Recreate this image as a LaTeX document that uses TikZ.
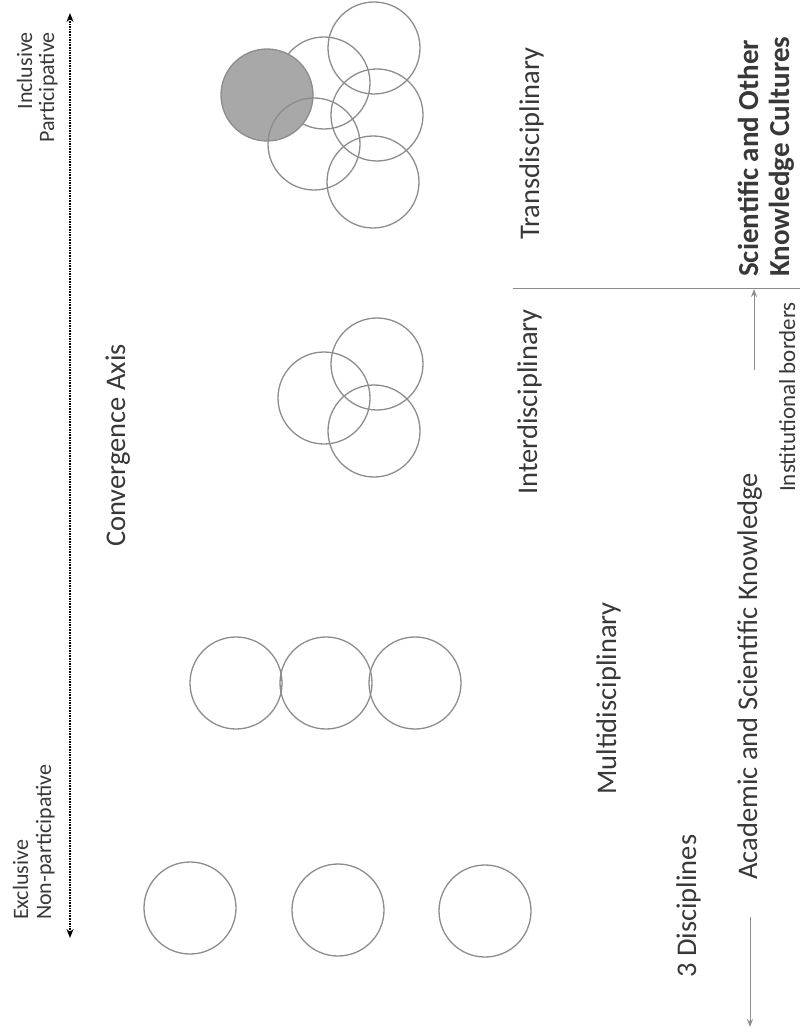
\documentclass[tikz,border=0pt]{standalone}
\usepackage{fontspec}
\setmainfont{Carlito}
\usepackage{xcolor}
\usepackage{tikz}
\usetikzlibrary{arrows.meta,positioning}
\definecolor{ringgray}{HTML}{8C8C8C}
\definecolor{shadegray}{HTML}{A8A8A8}
\definecolor{inkgray}{HTML}{383838}

\begin{document}
\begin{tikzpicture}[x=1pt,y=-1pt,
  ring/.style={draw=ringgray, line width=1.3pt, circle, minimum size=92pt, inner sep=0pt},
  lbl/.style={rotate=90, inner sep=0pt, anchor=base west, text=inkgray, font=\fontsize{28.5}{30}\selectfont},
  boldlbl/.style={lbl, font=\fontsize{29}{30}\selectfont\bfseries},
  smalllbl/.style={rotate=90, inner sep=0pt, text=inkgray, font=\fontsize{22}{24}\selectfont},
  axisline/.style={densely dotted, line width=1.6pt, {Stealth[length=9pt,width=7pt]}-{Stealth[length=9pt,width=7pt]}},
  greyarrow/.style={draw=ringgray, line width=1pt, -{Stealth[length=8pt,width=6pt]}}]
\useasboundingbox (0,0) rectangle (800,1032);

% convergence axis
\coordinate (axtop) at (70,13);
\coordinate (axbot) at (70,938);
\draw[axisline] (axbot) -- (axtop);
\node[smalllbl, anchor=base east] (incl) at (32,32) {Inclusive};
\node[smalllbl, anchor=base east] (partic) at (54,32) {Participative};
\node[smalllbl, anchor=base west] (excl) at (28,920) {Exclusive};
\node[smalllbl, anchor=base west] (nonpartic) at (51,920) {Non-participative};
\node[lbl] (convlbl) at (125,547) {Convergence Axis};

% 3 disciplines
\node[ring] (disc1) at (190,908) {};
\node[ring] (disc2) at (338,910) {};
\node[ring] (disc3) at (485,911) {};

% multidisciplinary
\node[ring] (multi1) at (236,683) {};
\node[ring] (multi2) at (326,683) {};
\node[ring] (multi3) at (415,683) {};

% interdisciplinary
\node[ring] (inter1) at (324,398) {};
\node[ring] (inter2) at (377,364) {};
\node[ring] (inter3) at (374,431) {};

% transdisciplinary
\node[ring] (trans2) at (324,83) {};
\node[ring] (trans1) at (374,48) {};
\node[ring, fill=shadegray] (transS) at (267,95) {};
\node[ring] (trans4) at (314,144) {};
\node[ring] (trans3) at (377,115) {};
\node[ring] (trans5) at (373,182) {};

% labels
\node[lbl] (translbl) at (539,240) {Transdisciplinary};
\node[lbl] (interlbl) at (537,495) {Interdisciplinary};
\node[lbl] (multilbl) at (616,795) {Multidisciplinary};
\node[lbl] (disclbl) at (696,978) {3 Disciplines};
\node[lbl] (acadlbl) at (757,880) {Academic and Scientific Knowledge};
\node[boldlbl] (scilbl) at (758,277) {Scientific and Other};
\node[boldlbl] (knowlbl) at (789,277) {Knowledge Cultures};
\node[smalllbl, anchor=base west, font=\fontsize{23}{24}\selectfont] (bordlbl) at (795,492) {Institutional borders};

% borders
\coordinate (bordL) at (513,288);
\coordinate (bordR) at (800,288);
\draw[ringgray, line width=0.8pt] (bordL) -- (bordR);
\coordinate (bordfoot) at (754,370);
\coordinate (bordtip) at (754,289);
\draw[greyarrow] (bordfoot) -- (bordtip);
\coordinate (acadfoot) at (750,917);
\coordinate (acadtip) at (750,1027);
\draw[greyarrow] (acadfoot) -- (acadtip);
\end{tikzpicture}
\end{document}
